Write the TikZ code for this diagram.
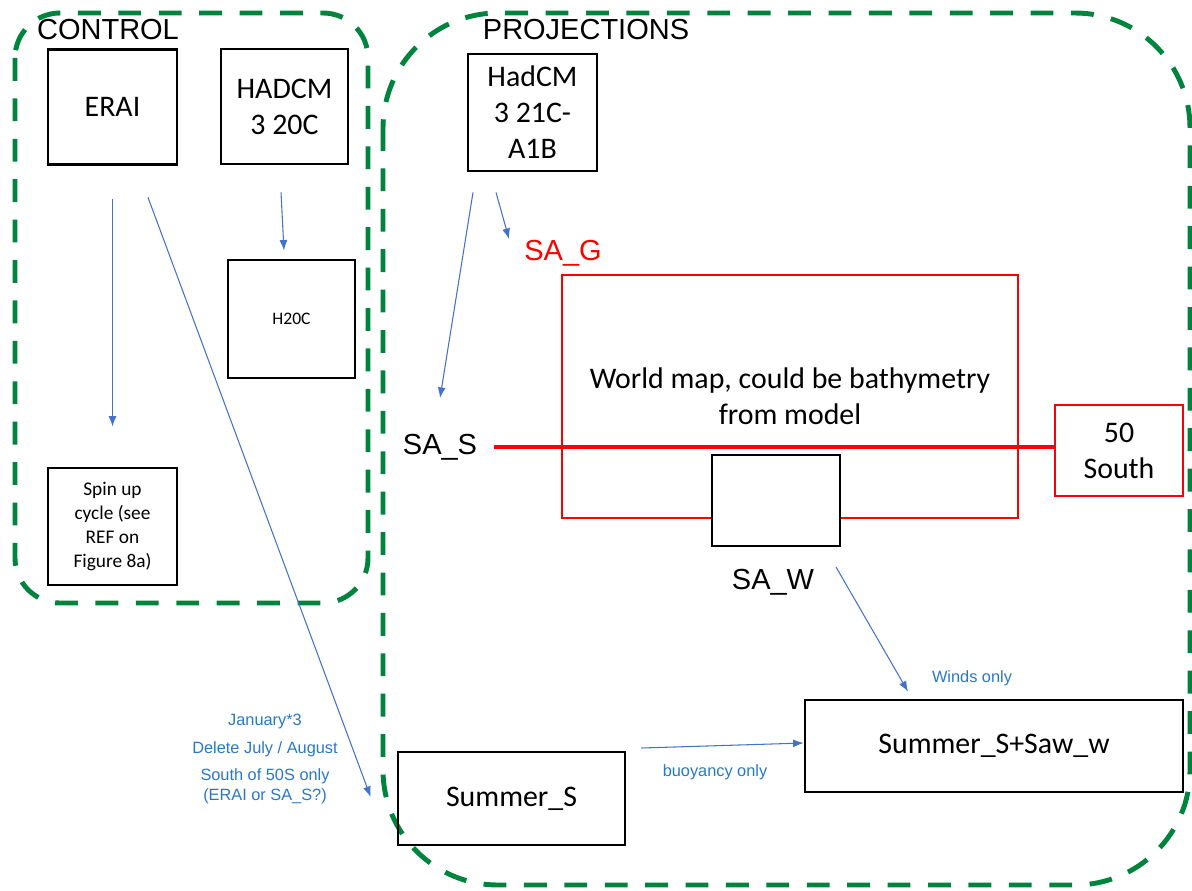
\documentclass[tikz,border=0pt]{standalone}
\usepackage{fontspec}
\setmainfont{Carlito}
\newfontfamily\arialfont{Liberation Sans}
\usetikzlibrary{arrows.meta}
\usetikzlibrary{positioning}
\usetikzlibrary{calc}
\definecolor{grpgreen}{RGB}{0,132,61}
\definecolor{flowblue}{RGB}{68,114,196}
\definecolor{noteblue}{RGB}{40,120,200}

\begin{document}
\begin{tikzpicture}[x=0.02cm, y=-0.02cm, >={Latex[length=6pt,width=4.5pt]},
    group/.style={draw=grpgreen, line width=2.8pt, dash pattern=on 13pt off 10pt},
    box/.style={draw, line width=1.6pt, align=center, inner sep=2pt, font=\fontsize{17}{20.5}\selectfont},
    redbox/.style={box, draw=red, line width=1.4pt},
    title/.style={font=\arialfont\fontsize{16.5}{19}\selectfont},
    flow/.style={->, draw=flowblue, line width=0.6pt},
    note/.style={text=noteblue, align=center, font=\arialfont\fontsize{9.3}{11.4}\selectfont}]
      \useasboundingbox (0,0) rectangle (1192,890);
      \draw[group, rounded corners=0.9cm] (15,13) rectangle (368,603);
      \draw[group, rounded corners=2.3cm] (383,13) rectangle (1190,885);
      \node[title] (control) at (108,30)  {CONTROL};
      \node[title] (proj)    at (586,30)  {PROJECTIONS};

      \node[box, minimum width=2.58cm, minimum height=2.3cm]  (erai)    at (112.5,107)   {ERAI};
      \node[box, minimum width=2.54cm, minimum height=2.3cm]  (hadcm20) at (284.5,106.5) {HADCM\\3 20C};
      \node[box, minimum width=2.54cm, minimum height=2.36cm,
            font=\fontsize{10}{12}\selectfont]                (h20c)    at (291.5,319)   {H20C};
      \node[box, minimum width=2.58cm, minimum height=2.34cm,
            font=\fontsize{11}{13.7}\selectfont]              (spin)    at (112.5,526.5) {Spin up\\cycle (see\\REF on\\Figure 8a)};
      \node[box, minimum width=2.58cm, minimum height=2.34cm] (hadcm21) at (532.5,112.5) {HadCM\\3 21C-\\A1B};

      \node[redbox, minimum width=9.12cm, minimum height=4.86cm] (map)   at (790,396.5)  {World map, could be bathymetry\\from model};
      \node[redbox, minimum width=2.56cm, minimum height=1.82cm] (south) at (1119,450.5) {50\\South};
      \node[title]             (sas) at (440,447) {SA\_S};
      \node[title, text=red]   (sag) at (563,253) {SA\_G};
      \draw[red, line width=2.3pt, shorten <=6pt] (sas.east) -- (sas.east -| south.west);
      \node[box, fill=white, minimum width=2.56cm, minimum height=1.82cm] (sawbox) at (776,500.5) {};
      \node[title]             (saw) at (773,582) {SA\_W};

      \node[box, minimum width=4.54cm, minimum height=1.86cm] (summer)  at (511.5,798.5) {Summer\_S};
      \node[box, minimum width=7.56cm, minimum height=1.84cm] (summerw) at (994,746)     {Summer\_S+Saw\_w};

      \node[note] (jan)   at (265,759) {January*3\\[4.5pt]Delete July / August\\[4.5pt]South of 50S only\\(ERAI or SA\_S?)};
      \node[note] (winds) at (972,678) {Winds only};
      \node[note] (buoy)  at (715,772) {buoyancy only};

      \draw[flow] ($(erai.south)+(0,33)$)          -- ($(spin.north)+(0,-40)$);
      \draw[flow] ($(erai.south)+(35.5,31.5)$)     -- ($(summer.west)+(-26,-1.5)$);
      \draw[flow] ($(hadcm20.south)+(-3.5,27)$)    -- ($(h20c.north)+(-7.5,-8)$);
      \draw[flow] ($(hadcm21.south)+(-59.5,20)$)   -- ($(sas)+(0,-49)$);
      \draw[flow] ($(hadcm21.south)+(-36.5,20)$)   -- ($(sag)+(-54,-14)$);
      \draw[flow] ($(saw)+(63,-15)$)               -- ($(summerw.north)+(-86,-7)$);
      \draw[flow] ($(summer.east)+(15,-50.5)$)     -- ($(summerw.west)+(0,-3)$);
    \end{tikzpicture}
\end{document}
